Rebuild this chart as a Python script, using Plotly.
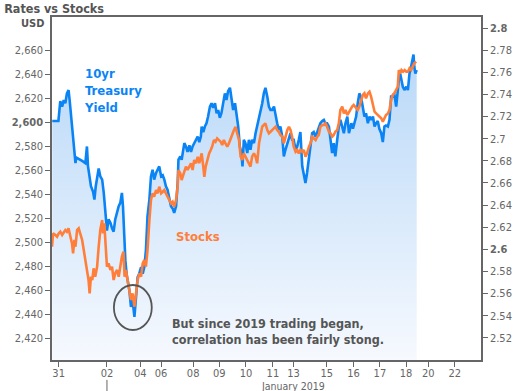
import plotly.graph_objects as go

# ---------------- data ----------------
# x positions are in "trading-day" units along the session axis (Dec 31 = 0)
yield_x = [-0.24,-0.12,-0.01,0.06,0.13,0.19,0.25,0.31,0.37,0.41,
           0.46,0.50,0.54,0.59,0.63,0.66,0.75,0.88,1.00,1.06,
           1.10,1.16,1.21,1.29,1.34,1.39,1.44,1.50,1.56,1.63,
           1.69,1.75,1.81,1.87,1.94,2.00,2.06,2.12,2.19,2.25,
           2.31,2.37,2.41,2.46,2.50,2.55,2.65,2.71,2.77,2.84,
           2.90,2.96,3.02,3.09,3.15,3.21,3.27,3.33,3.40,3.46,
           3.52,3.58,3.65,3.71,3.77,3.84,3.90,3.96,4.02,4.08,
           4.15,4.21,4.27,4.33,4.40,4.46,4.49,4.56,4.61,4.71,
           4.77,4.83,4.90,4.96,5.02,5.08,5.15,5.21,5.27,5.33,
           5.36,5.42,5.48,5.54,5.60,5.67,5.73,5.79,5.86,5.92,
           5.98,6.04,6.10,6.17,6.23,6.29,6.35,6.42,6.48,6.54,
           6.61,6.67,6.73,6.79,6.85,6.89,6.94,7.00,7.07,7.13,
           7.19,7.25,7.32,7.38,7.44,7.51,7.57,7.63,7.69,7.75,
           7.82,7.88,7.94,8.00,8.07,8.13,8.19,8.25,8.31,8.38,
           8.44,8.50,8.57,8.63,8.69,8.75,8.81,8.88,8.94,9.00,
           9.06,9.13,9.19,9.25,9.31,9.38,9.44,9.50,9.56,9.63,
           9.69,9.75,9.81,9.88,9.94,10.00,10.06,10.13,10.19,10.25,
           10.31,10.37,10.44,10.50,10.56,10.63,10.69,10.75,10.82,10.88,
           10.94,10.97,11.03,11.09,11.15,11.21,11.27,11.34,11.40,11.46,
           11.52,11.59,11.65,11.71,11.78,11.84,11.90,11.96,12.02,12.09,
           12.15,12.21,12.27,12.34,12.40,12.46,12.52,12.58,12.65,12.71,
           12.75,12.80,12.85,12.90,12.96,13.03,13.09,13.15,13.21,13.25,
           13.30,13.33,13.37,13.42]

yield_y = [2.716,2.716,2.716,2.734,2.729,2.735,2.732,2.741,2.744,2.735,
           2.723,2.714,2.699,2.690,2.678,2.683,2.682,2.680,2.678,2.693,
           2.675,2.663,2.657,2.652,2.645,2.657,2.666,2.673,2.666,2.663,
           2.651,2.630,2.617,2.627,2.624,2.619,2.616,2.627,2.634,2.639,
           2.642,2.651,2.639,2.611,2.590,2.577,2.563,2.548,2.554,2.539,
           2.560,2.575,2.578,2.584,2.578,2.584,2.599,2.630,2.645,2.666,
           2.672,2.663,2.669,2.672,2.675,2.666,2.667,2.663,2.657,2.654,
           2.645,2.639,2.637,2.633,2.639,2.660,2.681,2.684,2.681,2.696,
           2.693,2.688,2.694,2.688,2.693,2.696,2.700,2.702,2.697,2.702,
           2.711,2.706,2.711,2.714,2.720,2.729,2.732,2.728,2.732,2.723,
           2.726,2.719,2.723,2.732,2.741,2.735,2.743,2.746,2.735,2.726,
           2.732,2.723,2.711,2.693,2.687,2.675,2.699,2.696,2.687,2.699,
           2.690,2.699,2.696,2.705,2.711,2.720,2.726,2.732,2.741,2.746,
           2.738,2.729,2.726,2.726,2.729,2.720,2.714,2.708,2.711,2.702,
           2.684,2.690,2.696,2.702,2.705,2.699,2.699,2.690,2.693,2.699,
           2.706,2.675,2.666,2.660,2.669,2.681,2.693,2.705,2.706,2.702,
           2.706,2.711,2.714,2.716,2.717,2.714,2.714,2.711,2.696,2.687,
           2.696,2.684,2.699,2.711,2.717,2.711,2.705,2.714,2.720,2.705,
           2.711,2.714,2.709,2.714,2.720,2.732,2.741,2.737,2.729,2.720,
           2.723,2.714,2.720,2.717,2.720,2.711,2.714,2.716,2.709,2.705,
           2.697,2.711,2.712,2.711,2.717,2.738,2.738,2.741,2.729,2.744,
           2.753,2.759,2.753,2.747,2.744,2.747,2.744,2.759,2.765,2.771,
           2.776,2.765,2.759,2.762]

stocks_x = [-0.25,-0.21,-0.12,-0.06,0.00,0.06,0.13,0.19,0.25,0.31,
            0.37,0.44,0.50,0.54,0.59,0.63,0.69,0.75,0.81,0.88,
            0.94,1.00,1.06,1.12,1.16,1.21,1.26,1.31,1.37,1.44,
            1.50,1.56,1.63,1.66,1.71,1.75,1.81,1.87,1.94,2.00,
            2.06,2.12,2.19,2.25,2.31,2.37,2.43,2.47,2.52,2.58,
            2.65,2.71,2.77,2.84,2.90,2.96,3.02,3.09,3.15,3.21,
            3.27,3.33,3.40,3.46,3.52,3.58,3.65,3.71,3.77,3.84,
            3.90,3.96,4.02,4.08,4.15,4.21,4.27,4.33,4.40,4.46,
            4.49,4.56,4.61,4.68,4.77,4.83,4.90,4.96,5.02,5.08,
            5.15,5.21,5.27,5.33,5.36,5.42,5.46,5.51,5.57,5.64,
            5.70,5.75,5.82,5.88,5.94,6.00,6.07,6.13,6.19,6.25,
            6.32,6.38,6.44,6.50,6.57,6.63,6.69,6.76,6.82,6.88,
            6.94,7.00,7.07,7.13,7.19,7.25,7.32,7.38,7.44,7.51,
            7.57,7.63,7.69,7.75,7.82,7.88,7.94,8.00,8.07,8.13,
            8.19,8.25,8.31,8.38,8.44,8.50,8.57,8.63,8.69,8.75,
            8.81,8.88,8.94,9.00,9.06,9.13,9.19,9.25,9.31,9.38,
            9.44,9.50,9.56,9.63,9.69,9.75,9.81,9.88,9.94,10.00,
            10.06,10.13,10.19,10.25,10.31,10.37,10.44,10.50,10.56,10.63,
            10.69,10.75,10.82,10.88,10.94,11.00,11.06,11.12,11.21,11.27,
            11.34,11.40,11.46,11.52,11.59,11.65,11.71,11.78,11.84,11.90,
            11.96,12.02,12.09,12.15,12.21,12.27,12.34,12.40,12.46,12.52,
            12.58,12.65,12.71,12.75,12.80,12.85,12.91,12.97,13.03,13.09,
            13.15,13.21,13.27,13.33,13.40]

stocks_y = [2496.1,2507.2,2505.8,2504.4,2507.2,2508.6,2505.8,2508.6,2510,2508.6,
            2511.4,2504.4,2498.9,2490.6,2501.7,2496.1,2510,2511.4,2507.2,2501.7,
            2493.3,2485,2479.4,2468.3,2457.2,2471.1,2468.3,2478.1,2471.1,2479.4,
            2496.1,2510,2518.3,2507.2,2515.6,2501.7,2479.4,2482.2,2476.7,2479.4,
            2468.3,2473.9,2476.7,2471.1,2479.4,2487.8,2491.9,2471.1,2476.7,2468.3,
            2457.2,2451.7,2457.2,2446.1,2457.2,2468.3,2473.9,2471.1,2482.2,2485,
            2479.4,2493.3,2518.3,2535,2540.6,2537.8,2543.3,2540.6,2546.1,2540.6,
            2541.9,2543.3,2540.6,2537.8,2535,2532.2,2533.6,2529.4,2535,2546.1,
            2560,2557.2,2551.7,2557.2,2562.8,2560,2562.8,2565.6,2560,2568.3,
            2565.6,2571.1,2565.6,2571.1,2573.9,2562.8,2554.4,2562.8,2568.3,2573.9,
            2576.7,2579.4,2585,2583.6,2586.4,2585,2583.6,2580.8,2585,2582.2,
            2579.4,2582.2,2585,2589.2,2593.3,2596.1,2590.6,2585,2571.1,2568.3,
            2573.9,2571.1,2568.3,2565.6,2562.8,2571.1,2573.9,2571.1,2565.6,2582.2,
            2590.6,2596.1,2597.5,2598.9,2593.3,2590.6,2591.9,2593.3,2594.7,2596.1,
            2593.3,2591.9,2589.2,2587.7,2582.2,2587.7,2593.3,2596.1,2593.3,2587.7,
            2579.4,2575.2,2576.7,2573.9,2576.7,2575.2,2576.7,2571.1,2573.9,2579.4,
            2582.2,2587.7,2586.4,2585,2587.7,2589.2,2596.1,2597.5,2597.5,2598.9,
            2596.1,2591.9,2590.6,2587.7,2589.2,2591.9,2593.3,2598.9,2610,2612.8,
            2607.2,2610,2605.8,2608.6,2610,2612.8,2614.2,2612.8,2610,2612.8,
            2618.3,2622.5,2623.9,2619.7,2623.9,2625.3,2621.1,2614.2,2608.6,2607.2,
            2605.8,2604.4,2603.1,2600.3,2603.1,2605.8,2607.2,2610,2618.3,2622.5,
            2623.9,2626.7,2629.4,2643.3,2640.6,2643.3,2641.9,2643.3,2641.9,2641.9,
            2644.7,2643.3,2646.1,2648.9,2650.3]

x_tick_pos = [0.00, 1.81, 3.06, 3.84, 5.04, 6.02, 7.02, 8.03, 8.80, 10.05, 11.05, 12.04, 13.02, 13.85, 14.85]
x_tick_lbl = ["31", "02", "04", "06", "08", "09", "10", "11", "13", "15", "16", "17", "18", "20", "22"]
stock_ticks = [2420, 2440, 2460, 2480, 2500, 2520, 2540, 2560, 2580, 2600, 2620, 2640, 2660]
yield_ticks = [2.52, 2.54, 2.56, 2.58, 2.6, 2.62, 2.64, 2.66, 2.68, 2.7, 2.72, 2.74, 2.76, 2.78, 2.8]

# ---------------- style ----------------
FONT = "Tahoma, DejaVu Sans Condensed, DejaVu Sans, sans-serif"
AX = "#666666"
TXT = "#555555"
BLUE = "#0a84f5"
ORANGE = "#ff7f3a"

stock_text = [f"<b>{v:,}</b>" if v == 2600 else f"{v:,}" for v in stock_ticks]
yield_text = []
for v in yield_ticks:
    s = f"{v:g}"
    yield_text.append(f"<b>{s}</b>" if s in ("2.6", "2.8") else s)

fig = go.Figure()
fig.add_trace(go.Scatter(
    x=yield_x, y=yield_y, yaxis="y", mode="lines",
    line=dict(color=BLUE, width=2.6),
    fill="tozeroy",
    fillgradient=dict(type="vertical", start=2.5, stop=2.78,
                      colorscale=[[0, "#f6f9fe"], [1, "#b8d8f8"]]),
    hoverinfo="skip", showlegend=False))
fig.add_trace(go.Scatter(
    x=stocks_x, y=stocks_y, yaxis="y2", mode="lines",
    line=dict(color=ORANGE, width=2.6),
    hoverinfo="skip", showlegend=False))

axis_common = dict(ticks="outside", ticklen=5, tickwidth=1, tickcolor=AX,
                   showline=True, linecolor=AX, linewidth=1.5,
                   showgrid=False, zeroline=False, automargin=False,
                   tickfont=dict(family=FONT, size=11, color=AX))

fig.update_layout(
    width=519, height=391,
    margin=dict(l=52, r=38, t=17, b=31, autoexpand=False),
    paper_bgcolor="white", plot_bgcolor="white",
    font=dict(family=FONT, color=TXT),
    showlegend=False, hovermode=False,
    title=dict(text="<b>Rates vs Stocks</b>", x=0.008, xanchor="left",
               y=0.977, yanchor="middle", font=dict(family=FONT, size=12.5, color=TXT)),
    xaxis=dict(range=[-0.25, 15.83], tickvals=x_tick_pos, ticktext=x_tick_lbl,
               mirror=True, ticklabelstandoff=-3, **axis_common),
    yaxis=dict(side="right", range=[2.5, 2.81], tickvals=yield_ticks, ticktext=yield_text,
               **axis_common),
    yaxis2=dict(side="left", overlaying="y", range=[2401.7, 2687.5],
                tickvals=stock_ticks, ticktext=stock_text, **axis_common),
)

fig.add_annotation(xref="paper", yref="paper", x=0, xshift=-6, xanchor="right",
                   y=0.9796, yanchor="middle", text="<b>USD</b>", showarrow=False,
                   font=dict(family=FONT, size=11, color=TXT))
fig.add_annotation(xref="paper", yref="paper", x=0.0706, xanchor="left",
                   y=0.786, yanchor="middle", align="left",
                   text="<b>10yr<br>Treasury<br>Yield</b>", showarrow=False,
                   font=dict(family=FONT, size=13, color=BLUE))
fig.add_annotation(xref="paper", yref="paper", x=0.285, xanchor="left",
                   y=0.3615, yanchor="middle", text="<b>Stocks</b>", showarrow=False,
                   font=dict(family=FONT, size=13, color=ORANGE))
fig.add_annotation(xref="paper", yref="paper", x=0.2756, xanchor="left",
                   y=0.083, yanchor="middle", align="left",
                   text="<b>But since 2019 trading began,<br>correlation has been fairly stong.</b>",
                   showarrow=False, font=dict(family=FONT, size=12.5, color=TXT))
fig.add_annotation(xref="paper", yref="paper", x=0.562, xanchor="center",
                   y=-0.075, yanchor="middle", text="January 2019", showarrow=False,
                   font=dict(family=FONT, size=10.5, color=AX))

fig.add_shape(type="line", xref="x", yref="paper", x0=1.81, x1=1.81, y0=-0.058, y1=-0.092,
              line=dict(color=AX, width=1))
fig.add_shape(type="circle", xref="x", yref="y2", x0=2.07, x1=3.49, y0=2426.7, y1=2464.2,
              line=dict(color=TXT, width=1.8))

fig.write_html(
    "out.html",
    config={"displayModeBar": False},
    post_script="document.body.style.margin='0';document.body.style.overflow='hidden';"
                "document.documentElement.style.overflow='hidden';",
)
